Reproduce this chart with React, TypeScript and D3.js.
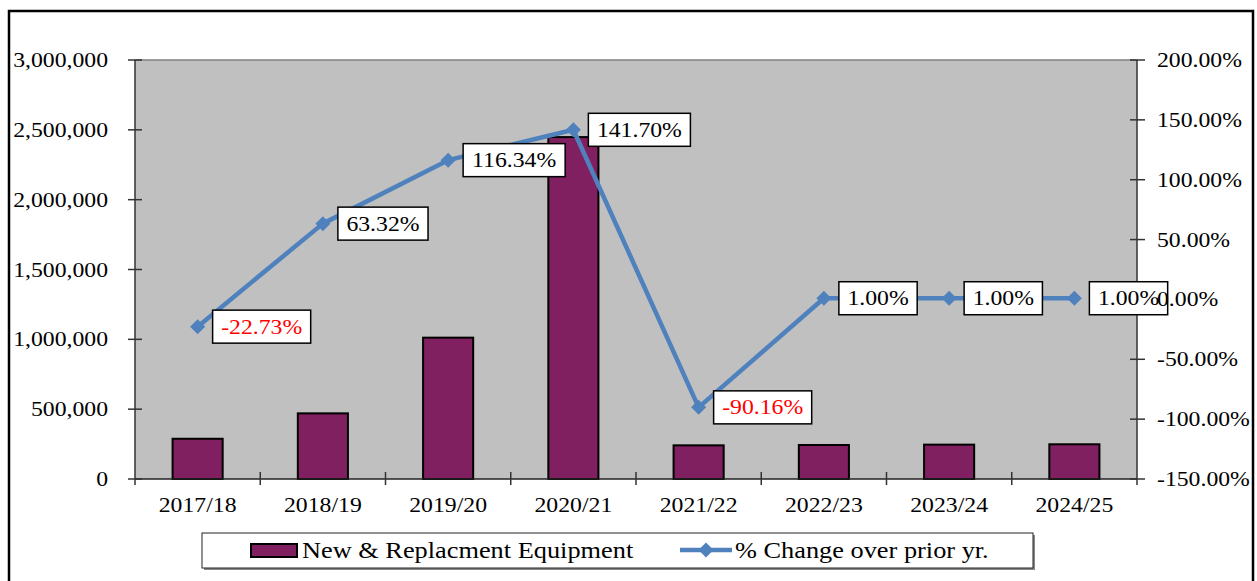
import React from "react";
import * as d3 from "d3";

const categories = ["2017/18", "2018/19", "2019/20", "2020/21", "2021/22", "2022/23", "2023/24", "2024/25"];
const equipment = [288000, 470000, 1012000, 2448000, 241000, 243500, 246000, 248500];
const pctChange = [-22.73, 63.32, 116.34, 141.7, -90.16, 1.0, 1.0, 1.0];
const leftTicks = [0, 500000, 1000000, 1500000, 2000000, 2500000, 3000000];
const rightTicks = [-150, -100, -50, 0, 50, 100, 150, 200];
const barLabel = "New & Replacment Equipment";
const lineLabel = "% Change over prior yr.";

const W = 1257;
const H = 581;
const plot = { left: 135, right: 1137, top: 60, bottom: 479 };
const FONT = "'Liberation Serif', 'Times New Roman', serif";
const FS = 21;
const SX = 1.13;
const BAR = "#802060";
const LINE = "#4F81BD";

function T({ x, y, anchor = "start", fill = "#000", size = FS, children }: any) {
  return (
    <text
      transform={`translate(${x},${y}) scale(${SX},1)`}
      textAnchor={anchor}
      dominantBaseline="central"
      fontFamily={FONT}
      fontSize={size}
      fill={fill}
    >
      {children}
    </text>
  );
}

function approxWidth(s: string) {
  let em = 0;
  for (const c of s) {
    if (/[0-9]/.test(c)) em += 0.5;
    else if (c === ".") em += 0.25;
    else if (c === "%") em += 0.833;
    else if (c === "-") em += 0.333;
    else em += 0.5;
  }
  return em * FS * SX;
}

function diamond(cx: number, cy: number, r: number) {
  return `M${cx},${cy - r}L${cx + r},${cy}L${cx},${cy + r}L${cx - r},${cy}Z`;
}

export default function App() {
  const x = d3
    .scaleBand<string>()
    .domain(categories)
    .range([plot.left, plot.right])
    .paddingInner(0.6)
    .paddingOuter(0.3);
  const step = x.step();
  const cx = (c: string) => (x(c) as number) + x.bandwidth() / 2;
  const yL = d3.scaleLinear().domain([0, 3000000]).range([plot.bottom, plot.top]);
  const yR = d3.scaleLinear().domain([-150, 200]).range([plot.bottom, plot.top]);
  const fmtL = d3.format(",");
  const line = d3
    .line<number>()
    .x((_, i) => cx(categories[i]))
    .y((d) => yR(d));

  const boundaries = d3.range(categories.length + 1).map((i) => plot.left + i * step);

  return (
    <svg
      width={W}
      height={H}
      style={{ position: "absolute", left: 0, top: 0, background: "#fff" }}
    >
      <rect x={0} y={0} width={W} height={H} fill="#fff" />
      <rect x={9} y={11} width={1244} height={620} fill="none" stroke="#000" strokeWidth={2.5} />

      {/* plot area */}
      <rect
        x={plot.left}
        y={plot.top}
        width={plot.right - plot.left}
        height={plot.bottom - plot.top}
        fill="#C0C0C0"
      />
      <line x1={plot.left} x2={plot.right} y1={plot.top} y2={plot.top} stroke="#808080" strokeWidth={1.5} />

      {/* bars */}
      {categories.map((c, i) => (
        <rect
          key={c}
          x={x(c)}
          y={yL(equipment[i])}
          width={x.bandwidth()}
          height={plot.bottom - yL(equipment[i])}
          fill={BAR}
          stroke="#000"
          strokeWidth={2}
        />
      ))}

      {/* axes */}
      <line x1={plot.left} x2={plot.left} y1={plot.top} y2={plot.bottom} stroke="#333" strokeWidth={1.5} />
      <line x1={plot.right} x2={plot.right} y1={plot.top} y2={plot.bottom} stroke="#333" strokeWidth={1.5} />
      <line x1={plot.left} x2={plot.right} y1={plot.bottom} y2={plot.bottom} stroke="#222" strokeWidth={1.5} />
      {leftTicks.map((t) => (
        <line key={"lt" + t} x1={plot.left - 7} x2={plot.left + 7} y1={yL(t)} y2={yL(t)} stroke="#333" strokeWidth={1.5} />
      ))}
      {rightTicks.map((t) => (
        <line key={"rt" + t} x1={plot.right - 7} x2={plot.right + 8} y1={yR(t)} y2={yR(t)} stroke="#333" strokeWidth={1.5} />
      ))}
      {boundaries.map((b, i) => (
        <line
          key={"ct" + i}
          x1={b}
          x2={b}
          y1={i === 0 || i === categories.length ? plot.bottom : plot.bottom - 7}
          y2={plot.bottom + 6}
          stroke="#333"
          strokeWidth={1.5}
        />
      ))}
      {leftTicks.map((t) => (
        <T key={"ll" + t} x={108} y={yL(t)} anchor="end">
          {fmtL(t)}
        </T>
      ))}
      {categories.map((c) => (
        <T key={"cl" + c} x={cx(c)} y={505} anchor="middle">
          {c}
        </T>
      ))}

      {/* line */}
      <path d={line(pctChange) || ""} fill="none" stroke={LINE} strokeWidth={4.5} strokeLinejoin="round" />
      {pctChange.map((v, i) => (
        <path key={"m" + i} d={diamond(cx(categories[i]), yR(v), 7.5)} fill={LINE} />
      ))}

      {/* data labels */}
      {pctChange.map((v, i) => {
        const s = v.toFixed(2) + "%";
        const w = approxWidth(s) + 17;
        const bx = cx(categories[i]) + 15;
        const by = yR(v);
        return (
          <g key={"dl" + i}>
            <rect x={bx} y={by - 16.5} width={w} height={33} fill="#fff" stroke="#000" strokeWidth={1.5} />
            <T x={bx + w / 2} y={by} anchor="middle" fill={v < 0 ? "#FF0000" : "#000"}>
              {s}
            </T>
          </g>
        );
      })}

      {rightTicks.map((t) => (
        <T key={"rl" + t} x={1157} y={yR(t)} anchor="start">
          {t.toFixed(2) + "%"}
        </T>
      ))}

      {/* legend */}
      <rect x={204} y={535} width={831} height={35} fill="#888" />
      <rect x={202} y={533} width={831} height={35} fill="#fff" stroke="#222" strokeWidth={1} />
      <rect x={251} y={544} width={46} height={13} fill={BAR} stroke="#000" strokeWidth={2} />
      <T x={302} y={550} anchor="start" size={23.3}>
        {barLabel}
      </T>
      <line x1={680} x2={732} y1={550} y2={550} stroke={LINE} strokeWidth={4.5} />
      <path d={diamond(706, 550, 7.5)} fill={LINE} />
      <T x={735} y={550} anchor="start" size={23.3}>
        {lineLabel}
      </T>
    </svg>
  );
}
